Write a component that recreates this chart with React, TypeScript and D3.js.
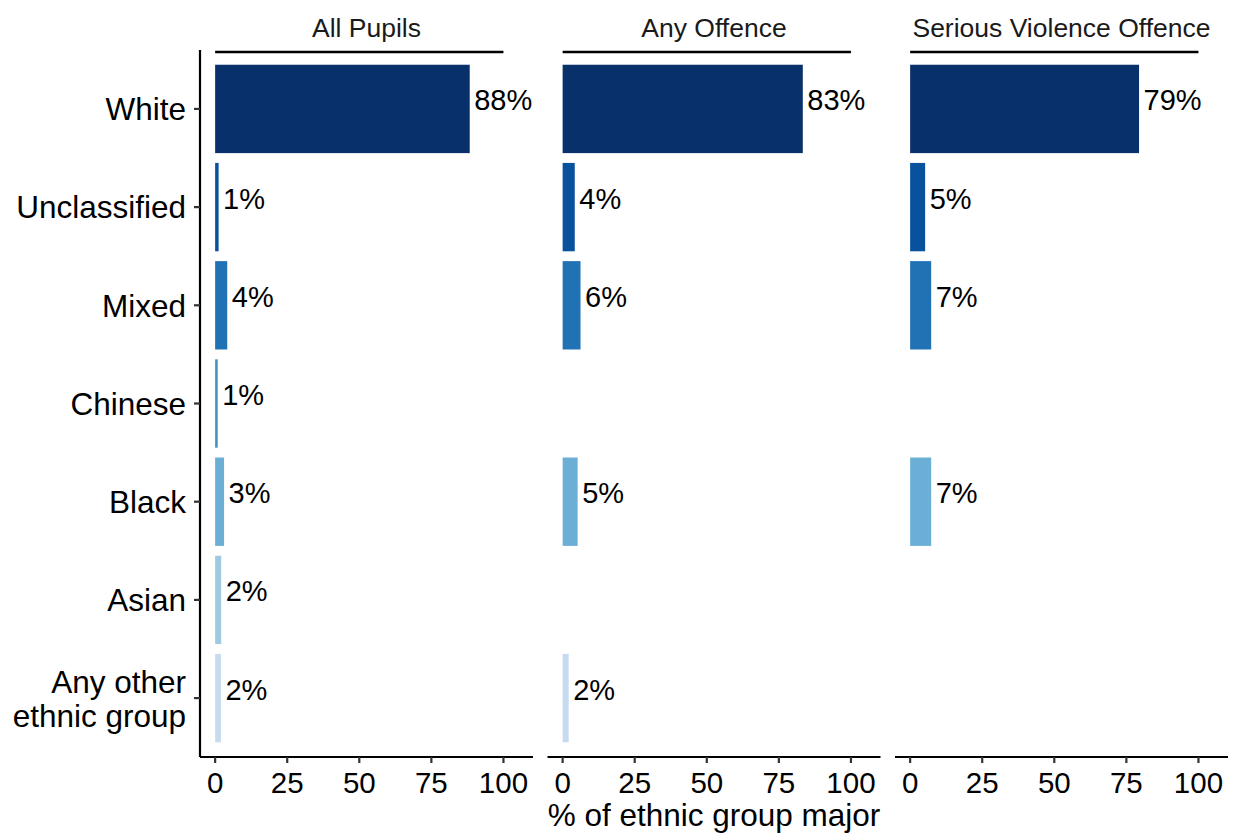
import React from "react";
import * as d3 from "d3";

const categories = ["White", "Unclassified", "Mixed", "Chinese", "Black", "Asian", "Any other ethnic group"];
const categoryLines = [["White"], ["Unclassified"], ["Mixed"], ["Chinese"], ["Black"], ["Asian"], ["Any other", "ethnic group"]];
const categoryColors = ["#08306b", "#08519c", "#2171b5", "#4292c6", "#6baed6", "#9ecae1", "#c6dbef"];
const panels = ["All Pupils", "Any Offence", "Serious Violence Offence"];
const allPupils: (number | null)[] = [88.3, 1.2, 4.2, 0.9, 3.1, 2.1, 2.0];
const anyOffence: (number | null)[] = [83.3, 4.2, 6.2, null, 5.2, null, 2.1];
const seriousViolence: (number | null)[] = [79.4, 5.2, 7.3, null, 7.3, null, null];
const panelValues = [allPupils, anyOffence, seriousViolence];
const xTicks = [0, 25, 50, 75, 100];
const xTitle = "% of ethnic group major";

const W = 1233, H = 837;
const panelLefts = [200, 547.5, 895];
const panelWidth = 333;
const top = 50, bottom = 757;
const font = "'Liberation Sans', Arial, sans-serif";

export default function App() {
  // ggplot-style discrete scale: 0.6 units of expansion on each side, bar width 0.9
  const y = d3.scalePoint<string>().domain(categories).range([top, bottom]).padding(0.6);
  const step = y.step();
  const yCenter = (i: number) => y(categories[i]) as number;
  const barH = step * 0.9;

  return (
    <svg width={W} height={H} style={{ display: "block", position: "absolute", left: 0, top: 0, background: "#fff" }} fontFamily={font}>
      <line x1={panelLefts[0]} x2={panelLefts[0]} y1={top} y2={bottom} stroke="#000" strokeWidth={2.2} />
      {categories.map((c, i) => (
        <g key={c}>
          <line x1={panelLefts[0] - 6} x2={panelLefts[0]} y1={yCenter(i)} y2={yCenter(i)} stroke="#333" strokeWidth={2.2} />
          {categoryLines[i].length === 1 ? (
            <text x={186} y={yCenter(i)} dy="0.36em" textAnchor="end" fontSize={31.5} fill="#000">{c}</text>
          ) : (
            categoryLines[i].map((ln, k) => (
              <text key={k} x={186} y={yCenter(i) + (k - 0.5) * 34 + 1} dy="0.36em" textAnchor="end" fontSize={31.5} fill="#000">{ln}</text>
            ))
          )}
        </g>
      ))}
      {panels.map((p, pi) => {
        const x = d3.scaleLinear().domain([-5.25, 110.25]).range([panelLefts[pi], panelLefts[pi] + panelWidth]);
        const vals = panelValues[pi];
        return (
          <g key={p}>
            <text x={panelLefts[pi] + panelWidth / 2} y={27} dy="0.36em" textAnchor="middle" fontSize={26.5} fill="#1a1a1a">{p}</text>
            <line x1={x(0)} x2={x(100)} y1={52} y2={52} stroke="#000" strokeWidth={2.5} />
            {vals.map((v, i) => v == null ? null : (
              <g key={i}>
                <rect x={x(0)} y={yCenter(i) - barH / 2} width={x(v) - x(0)} height={barH} fill={categoryColors[i]} />
                <text x={x(v) + 4.5} y={yCenter(i) - 9} dy="0.36em" fontSize={29} fill="#000">{Math.round(v)}%</text>
              </g>
            ))}
            <line x1={panelLefts[pi]} x2={panelLefts[pi] + panelWidth} y1={bottom} y2={bottom} stroke="#000" strokeWidth={2.2} />
            {xTicks.map(t => (
              <g key={t}>
                <line x1={x(t)} x2={x(t)} y1={bottom} y2={bottom + 6} stroke="#333" strokeWidth={2.2} />
                <text x={x(t)} y={782} dy="0.36em" textAnchor="middle" fontSize={29.5} fill="#000">{t}</text>
              </g>
            ))}
          </g>
        );
      })}
      <text x={panelLefts[1] + panelWidth / 2} y={815} dy="0.36em" textAnchor="middle" fontSize={31.5} fill="#000">{xTitle}</text>
    </svg>
  );
}
